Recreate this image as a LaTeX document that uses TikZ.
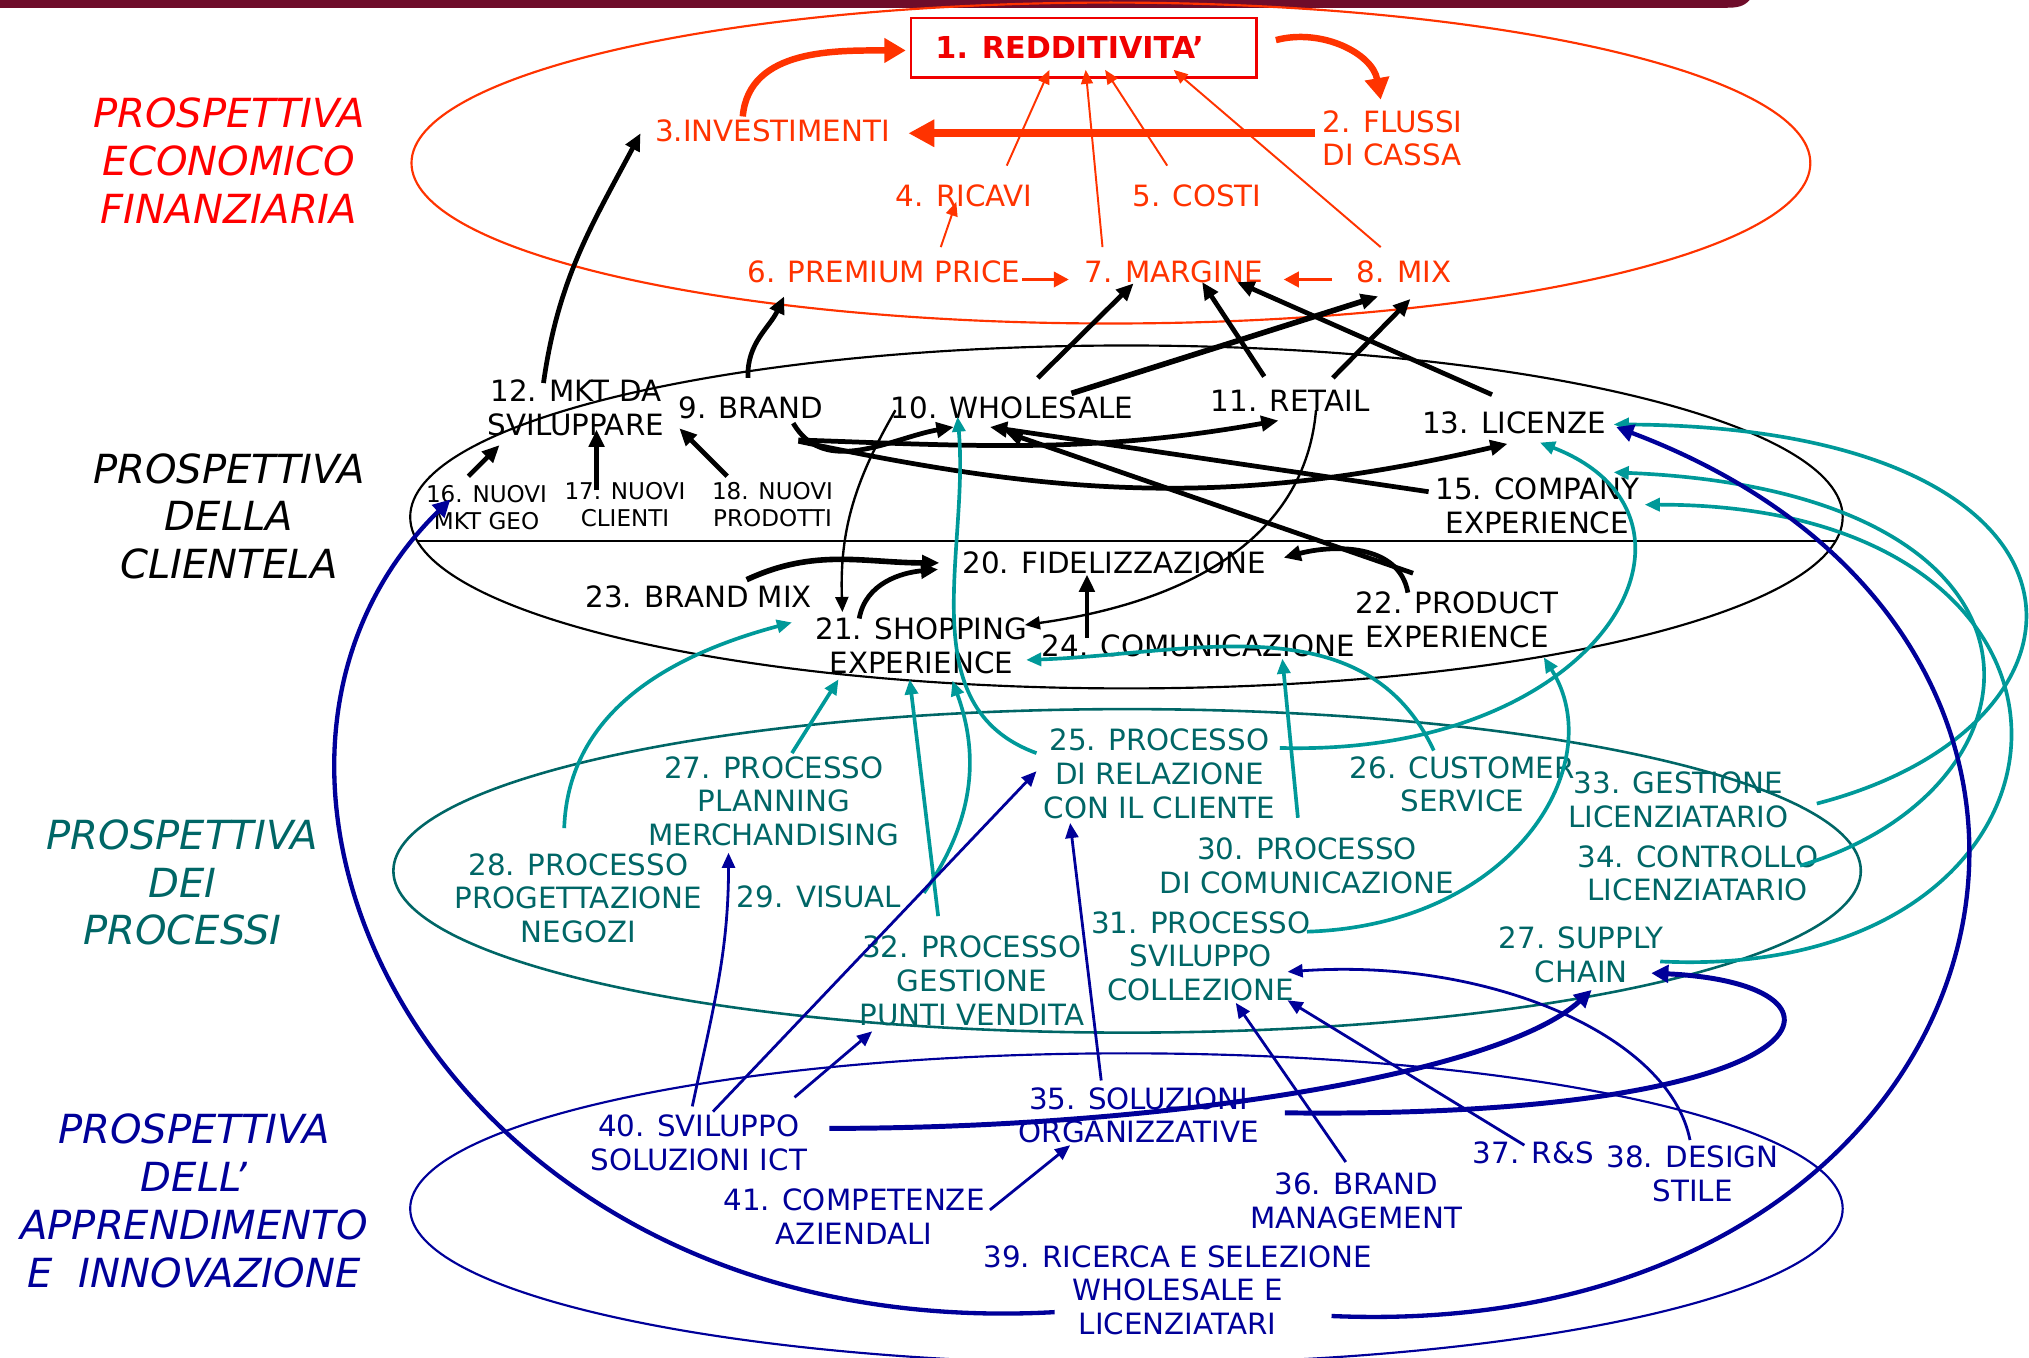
\documentclass[tikz,border=0pt]{standalone}
\usepackage{fontspec}
\setmainfont{DejaVu Sans}
\usepackage{tikz}
\usetikzlibrary{arrows.meta}
\definecolor{ecored}{HTML}{FF3300}
\definecolor{titred}{HTML}{F00000}
\definecolor{proctxt}{HTML}{006666}
\definecolor{procarr}{HTML}{009999}
\definecolor{learnblue}{HTML}{000099}
\definecolor{topbar}{HTML}{6E0C2A}

\begin{document}
\begin{tikzpicture}[x=0.6pt, y=0.6pt,
  every node/.style={inner sep=0pt, align=center},
  tf/.style={font=\fontsize{13.6}{15.6}\selectfont},
  sf/.style={font=\fontsize{10.7}{12.6}\selectfont},
  lab/.style={font=\fontsize{18.6}{22.2}\selectfont\itshape},
  eco/.style={tf, text=ecored},
  cli/.style={tf, text=black},
  pro/.style={tf, text=proctxt},
  app/.style={tf, text=learnblue},
  ea/.style={draw=ecored, line width=0.9pt, -{Triangle[length=6.5pt,width=5.5pt]}},
  eb/.style={draw=ecored, line width=3pt, -{Triangle[length=10pt,width=11pt]}},
  ba/.style={draw=black, line width=2.2pt, -{Triangle[length=8pt,width=7pt]}},
  bt/.style={draw=black, line width=1.1pt, -{Triangle[length=7pt,width=6pt]}},
  ta/.style={draw=procarr, line width=1.7pt, -{Triangle[length=7pt,width=6pt]}},
  na/.style={draw=learnblue, line width=1.3pt, -{Triangle[length=7pt,width=6pt]}},
  nb/.style={draw=learnblue, line width=2.3pt, -{Triangle[length=8pt,width=8pt]}}]
\useasboundingbox (0,0) rectangle (1568,-1049);
%
\fill[topbar] (0,0) -- (1352,0) .. controls (1348,-5) and (1342,-6) .. (1335,-6) -- (0,-6) -- cycle;
\draw[ecored, line width=1pt] (858.5,-126) ellipse [x radius=540.5, y radius=124];
\draw[black, line width=1pt] (870.5,-399.5) ellipse [x radius=553.5, y radius=132.5];
\draw[black, line width=1pt] (322,-418) -- (1419,-418);
\draw[proctxt, line width=1.2pt] (871,-673) ellipse [x radius=567, y radius=125];
\draw[learnblue, line width=1pt] (870.5,-934) ellipse [x radius=553.5, y radius=120];
%
\node[lab, text=red] (pe) at (177,-124) {PROSPETTIVA\\ECONOMICO\\FINANZIARIA};
\node[lab] (pc) at (177,-399) {PROSPETTIVA\\DELLA\\CLIENTELA};
\node[lab, text=proctxt] (pp) at (141,-682) {PROSPETTIVA\\DEI\\PROCESSI};
\node[lab, text=learnblue] (pa) at (150,-928) {PROSPETTIVA\\DELL’\\APPRENDIMENTO\\E~~INNOVAZIONE};
%
\node[draw=titred, line width=1.2pt, minimum width=160.2pt, minimum height=27.6pt,
      text=titred, font=\fontsize{14}{16}\selectfont\bfseries] (n1) at (837.5,-37) {1. REDDITIVITA’\hspace*{13pt}};
\node[eco, anchor=west, align=left] (n2) at (1022,-107) {2. FLUSSI\\DI CASSA};
\node[eco] (n3) at (597,-101) {3.INVESTIMENTI};
\node[eco] (n4) at (745,-151) {4. RICAVI};
\node[eco] (n5) at (925,-151) {5. COSTI};
\node[eco] (n6) at (683,-210) {6. PREMIUM PRICE};
\node[eco] (n7) at (907,-210) {7. MARGINE};
\node[eco] (n8) at (1085,-210) {8. MIX};
%
\node[cli] (n12) at (445,-315) {12. MKT DA\\SVILUPPARE};
\node[cli] (n9) at (580,-315) {9. BRAND};
\node[cli] (n10) at (782,-315) {10. WHOLESALE};
\node[cli] (n11) at (997,-310) {11. RETAIL};
\node[cli] (n13) at (1170,-327) {13. LICENZE};
\node[cli] (n15) at (1188,-391) {15. COMPANY\\EXPERIENCE};
\node[sf] (n16) at (376,-392) {16. NUOVI\\MKT GEO};
\node[sf] (n17) at (483,-390) {17. NUOVI\\CLIENTI};
\node[sf] (n18) at (597,-390) {18. NUOVI\\PRODOTTI};
\node[cli] (n20) at (861,-435) {20. FIDELIZZAZIONE};
\node[cli] (n23) at (540,-461) {23. BRAND MIX};
\node[cli] (n21) at (712,-499) {21. SHOPPING\\EXPERIENCE};
\node[cli] (n24) at (926,-499) {24. COMUNICAZIONE};
\node[cli] (n22) at (1126,-479) {22. PRODUCT\\EXPERIENCE};
%
\node[pro] (n25) at (896,-598) {25. PROCESSO\\DI RELAZIONE\\CON IL CLIENTE};
\node[pro] (n26) at (1130,-606) {26. CUSTOMER\\SERVICE};
\node[pro] (n27) at (598,-619) {27. PROCESSO\\PLANNING\\MERCHANDISING};
\node[pro] (n28) at (447,-694) {28. PROCESSO\\PROGETTAZIONE\\NEGOZI};
\node[pro] (n29) at (633,-693) {29. VISUAL};
\node[pro] (n30) at (1010,-669) {30. PROCESSO\\DI COMUNICAZIONE};
\node[pro] (n33) at (1297,-618) {33. GESTIONE\\LICENZIATARIO};
\node[pro] (n34) at (1312,-675) {34. CONTROLLO\\LICENZIATARIO};
\node[pro] (n31) at (928,-739) {31. PROCESSO\\SVILUPPO\\COLLEZIONE};
\node[pro] (n32) at (751,-758) {32. PROCESSO\\GESTIONE\\PUNTI VENDITA};
\node[pro] (nsc) at (1222,-738) {27. SUPPLY\\CHAIN};
%
\node[app] (n35) at (880,-862) {35. SOLUZIONI\\ORGANIZZATIVE};
\node[app] (n40) at (540,-883) {40. SVILUPPO\\SOLUZIONI ICT};
\node[app] (n41) at (660,-940) {41. COMPETENZE\\AZIENDALI};
\node[app] (n36) at (1048,-928) {36. BRAND\\MANAGEMENT};
\node[app] (n37) at (1185,-891) {37. R\&S};
\node[app] (n38) at (1308,-907) {38. DESIGN\\STILE};
\node[app] (n39) at (910,-997) {39. RICERCA E SELEZIONE\\WHOLESALE E\\LICENZIATARI};
%
% economico finanziaria
\draw[eb] ([shift={(-23,11)}]n3.center) to[out=85, in=180] ([shift={(-137.5,-2)}]n1.center);
\draw[eb] ([shift={(148.5,6)}]n1.center) to[out=15, in=100] ([shift={(45,30)}]n2.west);
\draw[ecored, line width=3.6pt, -{Triangle[length=12pt,width=12pt]}] ([shift={(-6,4)}]n2.west) -- ([shift={(105,-2)}]n3.center);
\draw[ea] ([shift={(33,23)}]n4.center) -- ([shift={(-26.5,-17)}]n1.center);
\draw[ea] ([shift={(-55,19)}]n7.center) -- ([shift={(1.5,-17)}]n1.center);
\draw[ea] ([shift={(-23,23)}]n5.center) -- ([shift={(16.5,-17)}]n1.center);
\draw[ea] ([shift={(-18,19)}]n8.center) -- ([shift={(69.5,-17)}]n1.center);
\draw[ea] ([shift={(44,19)}]n6.center) -- ([shift={(-6,-5)}]n4.center);
\draw[ecored, line width=1.6pt, -{Triangle[length=7pt,width=7pt]}] ([shift={(107,-6)}]n6.center) -- ([shift={(-81,-6)}]n7.center);
\draw[ecored, line width=1.6pt, -{Triangle[length=7pt,width=7pt]}] ([shift={(-56,-6)}]n8.center) -- ([shift={(85,-6)}]n7.center);
%
% clientela
\draw[ba] ([shift={(-25,19)}]n12.center) to[out=82, in=242] ([shift={(-102,-2)}]n3.center);
\draw[ba] ([shift={(-2,23)}]n9.center) to[out=92, in=245] ([shift={(-77,-19)}]n6.center);
\draw[ba] ([shift={(20,23)}]n10.center) -- ([shift={(-31,-9)}]n7.center);
\draw[ba, line width=2.6pt] ([shift={(46,11)}]n10.center) -- ([shift={(-20,-19)}]n8.center);
\draw[ba] ([shift={(-20,19)}]n11.center) -- ([shift={(22,-8)}]n7.center);
\draw[ba] ([shift={(33,18)}]n11.center) -- ([shift={(5,-21)}]n8.center);
\draw[ba] ([shift={(-17,22)}]n13.center) -- ([shift={(49,-8)}]n7.center);
\draw[ba] ([shift={(-14,24)}]n16.center) -- ([shift={(-59,-29)}]n12.center);
\draw[ba] ([shift={(-22,11)}]n17.center) -- ([shift={(16,-17)}]n12.center);
\draw[ba] ([shift={(-35,22)}]n18.center) -- ([shift={(-55,-16)}]n9.center);
\draw[ba] ([shift={(33,-12)}]n9.center) to[out=-60, in=190] ([shift={(-45,-15)}]n10.center);
\draw[ba] ([shift={(37,-25)}]n9.center) to[out=-2, in=190] ([shift={(-9,-15)}]n11.center);
\draw[ba] ([shift={(37,-26)}]n9.center) to[out=-12, in=193] ([shift={(-5,-16)}]n13.center);
\draw[ba] ([shift={(-84,11)}]n15.center) -- ([shift={(-17,-15)}]n10.center);
\draw[ba] ([shift={(-34,36)}]n22.center) -- ([shift={(-5,-19)}]n10.center);
\draw[bt] ([shift={(-90,-2)}]n10.center) to[out=240, in=92] ([shift={(-61,26)}]n21.center);
\draw[bt] ([shift={(20,-7)}]n11.center) to[out=265, in=8] ([shift={(80,16)}]n21.center);
\draw[ba, line width=2.6pt] ([shift={(37,13)}]n23.center) to[out=25, in=180] ([shift={(-135,0)}]n20.center);
\draw[ba] ([shift={(-48,21)}]n21.center) to[out=80, in=185] ([shift={(-136,-5)}]n20.center);
\draw[ba] ([shift={(-86,6)}]n24.center) -- ([shift={(-21,-9)}]n20.center);
\draw[ba] ([shift={(-38,21)}]n22.center) to[out=100, in=15] ([shift={(131,4)}]n20.center);
%
% processi
\draw[ta] ([shift={(-11,54)}]n28.center) to[out=88, in=195] ([shift={(-100,18)}]n21.center);
\draw[ta] ([shift={(14,37)}]n27.center) -- ([shift={(-64,-26)}]n21.center);
\draw[ta] ([shift={(-26,50)}]n32.center) -- ([shift={(-9,-26)}]n21.center);
\draw[ta] ([shift={(81,3)}]n29.center) to[out=55, in=-70] ([shift={(24,-27)}]n21.center);
\draw[ta] ([shift={(-95,16)}]n25.center) to[out=160, in=-85] ([shift={(-42,-7)}]n10.center);
\draw[ta] ([shift={(93,20)}]n25.center) .. controls (1240,-585) and (1340,-400) .. ([shift={(20,-15)}]n13.center);
\draw[ta] ([shift={(-22,26)}]n26.center) to[out=115, in=2] ([shift={(81,-11)}]n21.center);
\draw[ta] ([shift={(-7,37)}]n30.center) -- ([shift={(65,-10)}]n24.center);
\draw[ta] ([shift={(82,19)}]n31.center) .. controls (1170,-715) and (1245,-590) .. ([shift={(67,-29)}]n22.center);
\draw[ta] ([shift={(107,-3)}]n33.center) .. controls (1640,-560) and (1640,-330) .. ([shift={(77,-1)}]n13.center);
\draw[ta] ([shift={(79,6)}]n34.center) .. controls (1590,-610) and (1610,-380) .. ([shift={(59,26)}]n15.center);
\draw[ta] ([shift={(61,-5)}]nsc.center) .. controls (1630,-760) and (1660,-390) .. ([shift={(83,1)}]n15.center);
%
% apprendimento
\draw[nb, line width=2pt] ([shift={(-95,-17)}]n39.center) .. controls (340,-1040) and (130,-600) .. ([shift={(-28,6)}]n16.center);
\draw[nb, line width=2pt] ([shift={(119,-20)}]n39.center) .. controls (1560,-1040) and (1700,-500) .. ([shift={(79,-3)}]n13.center);
\draw[na] ([shift={(-5,28)}]n40.center) to[out=78, in=-90] ([shift={(-35,-40)}]n27.center);
\draw[na] ([shift={(11,24)}]n40.center) -- ([shift={(-95,2)}]n25.center);
\draw[na] ([shift={(74,35)}]n40.center) -- ([shift={(-77,-39)}]n32.center);
\draw[nb] ([shift={(101,11)}]n40.center) .. controls (900,-872) and (1160,-830) .. ([shift={(8,-27)}]nsc.center);
\draw[na] ([shift={(-29,27)}]n35.center) -- ([shift={(-69,-38)}]n25.center);
\draw[na] ([shift={(-8,30)}]n36.center) -- ([shift={(27,-36)}]n31.center);
\draw[na] ([shift={(-7,6)}]n37.center) -- ([shift={(67,-34)}]n31.center);
\draw[na] ([shift={(-2,26)}]n38.center) .. controls (1290,-800) and (1150,-740) .. ([shift={(67,-12)}]n31.center);
\draw[nb] ([shift={(113,2)}]n35.center) .. controls (1420,-865) and (1450,-760) .. ([shift={(54,-14)}]nsc.center);
\draw[na] ([shift={(105,5)}]n41.center) -- ([shift={(-53,-23)}]n35.center);
%
\end{tikzpicture}
\end{document}
